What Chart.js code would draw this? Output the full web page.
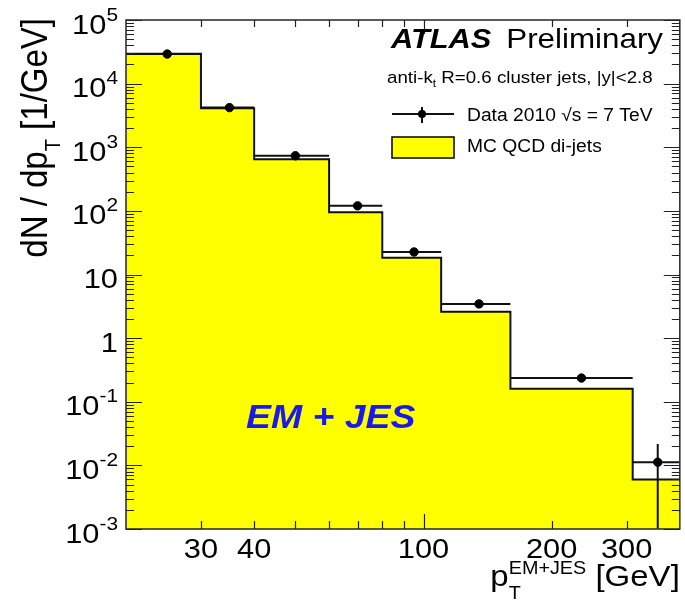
<!DOCTYPE html>
<html>
<head>
<meta charset="utf-8">
<script src="https://cdn.jsdelivr.net/npm/chart.js@4.4.1/dist/chart.umd.min.js"></script>
<style>
  html, body { margin: 0; padding: 0; background: #fff; }
  canvas { display: block; }
</style>
</head>
<body>
<canvas id="ptChart" width="685" height="600"></canvas>
<script>
// jet pT spectrum, EM+JES scale
const binEdges = [20, 30, 40, 60, 80, 110, 160, 310, 400];
const mcValues = [29500, 4100, 650, 95, 18.4, 2.6, 0.16, 0.006];
const dataValues = [29200, 4200, 735, 120, 22.6, 3.45, 0.236, 0.0112];
const dataErrors = [170, 65, 27, 5, 1.0, 0.2, 0.012, 0.0105];

const yTickValues = [1e-3, 1e-2, 1e-1, 1, 10, 1e2, 1e3, 1e4, 1e5];
const yTickLabels = [['10', '-3'], ['10', '-2'], ['10', '-1'], ['1', ''], ['10', ''],
                     ['10', '2'], ['10', '3'], ['10', '4'], ['10', '5']];
const xTickValues = [30, 40, 100, 200, 300];
const xTickLabels = ['30', '40', '100', '200', '300'];
const xMinorTicks = [50, 60, 70, 80, 90];

const FONT = '"Liberation Sans", Arial, Helvetica, sans-serif';
const SX = 1.1; // text is drawn a little wide

// step outline: one point at each lower bin edge, last bin closed at the upper edge
const mcSteps = mcValues.map((v, i) => ({ x: binEdges[i], y: v }));
mcSteps.push({ x: binEdges[binEdges.length - 1], y: mcValues[mcValues.length - 1] });

const dataPoints = dataValues.map((v, i) => ({
    x: (binEdges[i] + binEdges[i + 1]) / 2,
    y: v,
    lo: binEdges[i],
    hi: binEdges[i + 1],
    err: dataErrors[i]
}));

function wideText(ctx, str, x, y, font, align) {
    ctx.save();
    ctx.font = font;
    ctx.textAlign = align || 'left';
    ctx.textBaseline = 'alphabetic';
    ctx.translate(x, y);
    ctx.scale(SX, 1);
    ctx.fillText(str, 0, 0);
    ctx.restore();
}

function wideWidth(ctx, str, font) {
    ctx.font = font;
    return ctx.measureText(str).width * SX;
}

const errorBars = {
    id: 'errorBars',
    afterDatasetDraw(chart, args) {
        if (args.index !== 0) return;
        const { ctx, chartArea } = chart;
        const xs = chart.scales.x, ys = chart.scales.y;
        ctx.save();
        ctx.beginPath();
        ctx.rect(chartArea.left, chartArea.top, chartArea.right - chartArea.left, chartArea.bottom - chartArea.top);
        ctx.clip();
        ctx.strokeStyle = '#111';
        ctx.lineWidth = 2;
        dataPoints.forEach(p => {
            const py = ys.getPixelForValue(p.y);
            const px = xs.getPixelForValue(p.x);
            ctx.beginPath();
            ctx.moveTo(xs.getPixelForValue(p.lo), py);
            ctx.lineTo(xs.getPixelForValue(p.hi), py);
            const low = p.y - p.err;
            const yLow = low > 0 ? ys.getPixelForValue(low) : chartArea.bottom + 5;
            ctx.moveTo(px, ys.getPixelForValue(p.y + p.err));
            ctx.lineTo(px, yLow);
            ctx.stroke();
        });
        ctx.restore();
    }
};

const decorations = {
    id: 'decorations',
    afterDraw(chart) {
        const { ctx, chartArea } = chart;
        const xs = chart.scales.x, ys = chart.scales.y;
        const { left, right, top, bottom } = chartArea;

        // frame
        ctx.save();
        ctx.strokeStyle = '#333';
        ctx.lineWidth = 1.6;
        ctx.strokeRect(left, top, right - left, bottom - top);

        // ticks
        ctx.strokeStyle = '#222';
        ctx.lineWidth = 1.2;
        ctx.beginPath();
        for (let e = -3; e <= 5; e++) {
            for (let m = 1; m <= 9; m++) {
                const v = m * Math.pow(10, e);
                if (v > 1e5) break;
                const y = Math.round(ys.getPixelForValue(v)) + 0.5;
                const len = m === 1 ? 16 : 8;
                ctx.moveTo(left, y); ctx.lineTo(left + len, y);
                ctx.moveTo(right, y); ctx.lineTo(right - len, y);
            }
        }
        xTickValues.concat(xMinorTicks).forEach(v => {
            const x = Math.round(xs.getPixelForValue(v)) + 0.5;
            const len = v === 100 ? 15 : 8;
            ctx.moveTo(x, bottom); ctx.lineTo(x, bottom - len);
            ctx.moveTo(x, top); ctx.lineTo(x, top + len - 1);
        });
        ctx.stroke();

        // y tick labels
        ctx.fillStyle = '#000';
        const baseFont = '28px ' + FONT, expFont = '19px ' + FONT;
        yTickValues.forEach((v, i) => {
            const y = ys.getPixelForValue(v);
            const [base, exp] = yTickLabels[i];
            const rx = 118;
            const ew = exp ? wideWidth(ctx, exp, expFont) : 0;
            wideText(ctx, base, rx - ew, y + 13.5, baseFont, 'right');
            if (exp) wideText(ctx, exp, rx, y + 0.5, expFont, 'right');
        });

        // x tick labels
        xTickValues.forEach((v, i) => {
            wideText(ctx, xTickLabels[i], xs.getPixelForValue(v), 558, baseFont, 'center');
        });

        // x title: p_T^{EM+JES} [GeV]
        const tFont = '30px ' + FONT, sFont = '18px ' + FONT;
        const wp = wideWidth(ctx, 'p', tFont);
        const wsup = wideWidth(ctx, 'EM+JES', sFont);
        const wunit = wideWidth(ctx, ' [GeV]', tFont);
        let x0 = right - (wp + wsup + wunit);
        wideText(ctx, 'p', x0, 586, tFont);
        wideText(ctx, 'T', x0 + wp, 599, sFont);
        wideText(ctx, 'EM+JES', x0 + wp, 574, sFont);
        wideText(ctx, ' [GeV]', x0 + wp + wsup, 586, tFont);

        // y title: dN / dp_T [1/GeV], rotated, ending at the top of the frame
        ctx.save();
        const yFont = '33px ' + FONT, ySub = '20px ' + FONT;
        const pieces = [['dN / dp', yFont, 0], ['T', ySub, 12], [' [1/GeV]', yFont, 0]];
        let total = 0;
        pieces.forEach(p => { ctx.font = p[1]; total += ctx.measureText(p[0]).width; });
        ctx.translate(47, top - 2 + total);
        ctx.rotate(-Math.PI / 2);
        ctx.scale(1, SX);
        let tx = 0;
        pieces.forEach(p => {
            ctx.font = p[1];
            ctx.fillText(p[0], tx, p[2]);
            tx += ctx.measureText(p[0]).width;
        });
        ctx.restore();

        // ATLAS label
        wideText(ctx, 'ATLAS', 391, 48, 'italic bold 28px ' + FONT);
        wideText(ctx, 'Preliminary', 663, 48, '28.5px ' + FONT, 'right');

        // jet selection: anti-k_t R=0.6 cluster jets, |y|<2.8
        const selFont = '17px ' + FONT, selSub = '11px ' + FONT;
        const w1 = wideWidth(ctx, 'anti-k', selFont);
        const w2 = wideWidth(ctx, 't', selSub);
        wideText(ctx, 'anti-k', 387, 83, selFont);
        wideText(ctx, 't', 387 + w1, 87, selSub);
        wideText(ctx, ' R=0.6 cluster jets, |y|<2.8', 387 + w1 + w2, 83, selFont);

        // legend
        const legFont = '17.5px ' + FONT;
        ctx.strokeStyle = '#111';
        ctx.lineWidth = 2;
        ctx.beginPath();
        ctx.moveTo(392, 114); ctx.lineTo(454, 114);
        ctx.moveTo(422, 107); ctx.lineTo(422, 123);
        ctx.stroke();
        ctx.fillStyle = '#000';
        ctx.beginPath();
        ctx.arc(422, 114, 4, 0, Math.PI * 2);
        ctx.fill();
        wideText(ctx, 'Data 2010 \u221As = 7 TeV', 467, 121, legFont);

        ctx.fillStyle = '#ffff00';
        ctx.fillRect(392, 137, 62, 21);
        ctx.lineWidth = 1.6;
        ctx.strokeRect(392, 137, 62, 21);
        ctx.fillStyle = '#000';
        wideText(ctx, 'MC QCD di-jets', 467, 152, legFont);

        // calibration scheme tag
        ctx.fillStyle = 'rgb(25, 25, 235)';
        wideText(ctx, 'EM + JES', 246, 428, 'italic bold 34px ' + FONT);
        ctx.restore();
    }
};

new Chart(document.getElementById('ptChart'), {
    type: 'line',
    data: {
        datasets: [
            {
                label: 'MC QCD di-jets',
                data: mcSteps,
                stepped: 'before',
                fill: 'start',
                backgroundColor: '#ffff00',
                borderColor: '#111',
                borderWidth: 2,
                pointRadius: 0,
                order: 2
            },
            {
                label: 'Data 2010',
                type: 'scatter',
                data: dataPoints,
                pointRadius: 4.2,
                pointBackgroundColor: '#000',
                pointBorderColor: '#000',
                showLine: false,
                order: 1
            }
        ]
    },
    options: {
        responsive: false,
        animation: false,
        layout: { padding: { left: 126, right: 5, top: 20, bottom: 71 } },
        plugins: {
            legend: { display: false },
            tooltip: { enabled: false }
        },
        scales: {
            x: { type: 'logarithmic', min: 20, max: 400, display: false },
            y: { type: 'logarithmic', min: 1e-3, max: 1e5, display: false }
        }
    },
    plugins: [errorBars, decorations]
});
</script>
</body>
</html>
